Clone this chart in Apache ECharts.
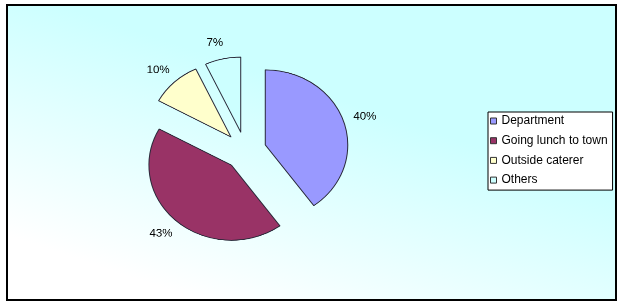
<!DOCTYPE html>
<html>
<head>
<meta charset="utf-8">
<script src="https://cdn.jsdelivr.net/npm/echarts@6/dist/echarts.min.js"></script>
<style>
  html, body { margin: 0; padding: 0; background: #fff; }
  #wrap { position: relative; width: 621px; height: 308px; overflow: hidden; background: #fff; }
  #base { position: absolute; left: 0; top: 0; width: 621px; height: 308px; }
  #pie { position: absolute; left: 0; top: 0; width: 621px; height: 338.5px; transform: scaleY(0.91); transform-origin: 0 0; }
</style>
</head>
<body>
<div id="wrap">
  <div id="base"></div>
  <div id="pie"></div>
</div>
<script>
// ---- data ----
const categories = ['Department', 'Going lunch to town', 'Outside caterer', 'Others'];
const values = [40, 43, 10, 7];
const sliceColors = ['#9999ff', '#993366', '#ffffcc', '#ccffff'];

const FONT = '"Liberation Sans", Arial, sans-serif';
const SCALE_Y = 0.91;

// ---- base layer: frame, background gradient, legend ----
const base = echarts.init(document.getElementById('base'), null, { renderer: 'canvas' });
base.setOption({
  animation: false,
  color: sliceColors,
  graphic: [{
    type: 'rect',
    silent: true,
    z: -10,
    shape: { x: 7, y: 5, width: 609, height: 295 },
    style: {
      fill: new echarts.graphic.LinearGradient(0, 1, 0.164, 0, [
        { offset: 0, color: '#ffffff' },
        { offset: 0.2, color: '#ffffff' },
        { offset: 0.95, color: '#ccffff' },
        { offset: 1, color: '#ccffff' }
      ]),
      stroke: '#000',
      lineWidth: 2
    }
  }],
  legend: {
    orient: 'vertical',
    left: 488,
    top: 112,
    icon: 'rect',
    itemWidth: 6,
    itemHeight: 6,
    itemGap: 7.7,
    padding: [3, 5, 4, 2],
    backgroundColor: '#ffffff',
    borderColor: '#000',
    borderWidth: 1,
    selectedMode: false,
    data: categories,
    itemStyle: { borderColor: '#333', borderWidth: 1 },
    textStyle: { fontFamily: FONT, fontSize: 12, color: '#000', lineHeight: 12 }
  },
  series: [{
    type: 'pie',
    silent: true,
    center: [300, 150],
    radius: 0,
    label: { show: false },
    labelLine: { show: false },
    itemStyle: { borderWidth: 0 },
    data: categories.map((n, i) => ({ name: n, value: values[i] }))
  }]
});

// ---- pie layer (vertically squashed to an ellipse) ----
const pie = echarts.init(document.getElementById('pie'), null, { renderer: 'canvas', devicePixelRatio: 2 });
pie.setOption({
  animation: false,
  color: sliceColors,
  series: [{
    type: 'pie',
    center: [245.3, 150.8 / SCALE_Y],
    radius: 82.5,
    startAngle: 90,
    clockwise: true,
    selectedMode: 'multiple',
    selectedOffset: 21,
    avoidLabelOverlap: false,
    emphasis: { disabled: true },
    itemStyle: { borderColor: '#2a2a3a', borderWidth: 1 },
    label: {
      position: 'outside',
      formatter: p => Math.round(p.percent) + '%',
      fontFamily: FONT,
      fontSize: 11.5,
      color: '#000',
      distanceToLabelLine: 4
    },
    labelLine: { show: false, length: 18, length2: 0 },
    labelLayout: { align: 'center' },
    data: categories.map((n, i) => ({ name: n, value: values[i], selected: true }))
  }]
});
</script>
</body>
</html>
